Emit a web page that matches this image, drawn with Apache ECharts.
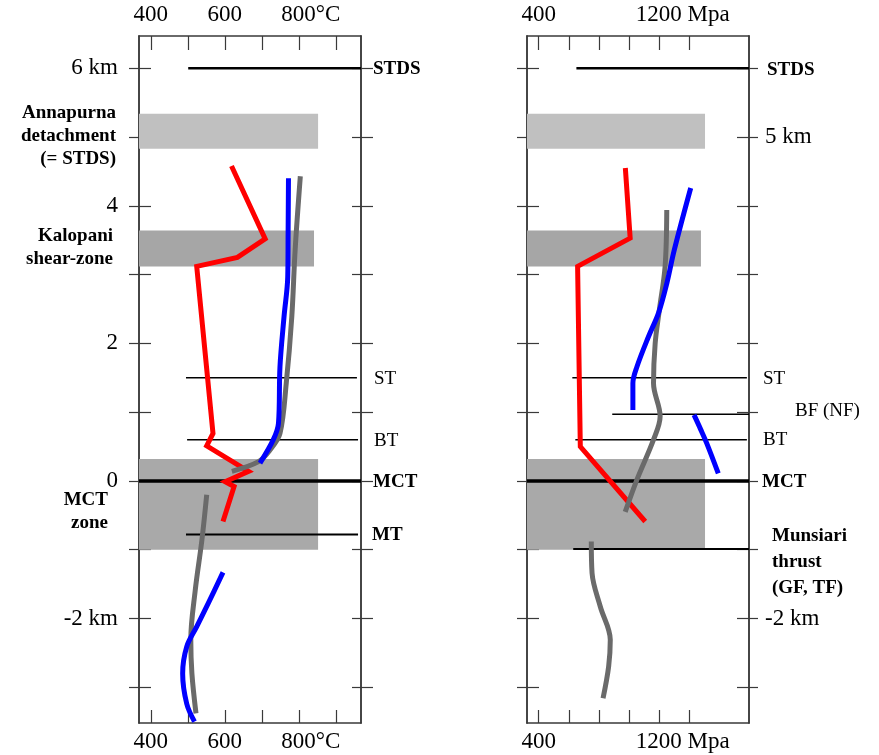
<!DOCTYPE html>
<html>
<head>
<meta charset="utf-8">
<script src="https://cdn.jsdelivr.net/npm/echarts@6.0.0/dist/echarts.min.js"></script>
<style>
    html, body { margin: 0; padding: 0; background: #fff; }
    #chart { width: 879px; height: 755px; }
</style>
</head>
<body>
<div id="chart"></div>
<script>
    // axis ranges / ticks
    var tempRange = [368, 968];
    var presRange = [322, 1796];
    var depthRange = [-3.52, 6.47];
    var tempTicks = [400, 500, 600, 700, 800, 900];
    var tempLabels = [400, 600, 800];
    var presTicks = [400, 600, 800, 1000, 1200, 1400];
    var presLabels = [400, 1200];
    var depthTicks = [-3, -2, -1, 0, 1, 2, 3, 4, 5, 6];
    var depthLabelsL = [6, 4, 2, 0, -2];
    var depthLabelsR = [5, -2];

    // shaded zones: [bottom km, top km]
    var annapurnaBand = [4.83, 5.34];
    var kalopaniBand = [3.12, 3.64];
    var mctZoneBand = [-1.0, 0.32];
    var bandTempMax = [852, 841, 852];
    var bandPresMax = [1504, 1477, 1504];

    // faults
    var faultNamesL = ['STDS', 'ST', 'BT', 'MCT', 'MT'];
    var faultDepthL = [6, 1.5, 0.6, 0, -0.78];
    var faultFromT = [501, 495, 498, 368, 495];
    var faultToT = [968, 957, 960, 968, 960];
    var faultNamesR = ['STDS', 'ST', 'BF (NF)', 'BT', 'MCT', 'Munsiari\nthrust\n(GF, TF)'];
    var faultDepthR = [6, 1.5, 0.97, 0.6, 0, -0.99];
    var faultFromP = [650, 623, 888, 643, 322, 629];
    var faultToP = [1796, 1782, 1796, 1782, 1796, 1796];

    // temperature profiles [T, depth]
    var tempRed = [[618, 4.58], [709, 3.52], [634, 3.25], [524, 3.12], [568, 0.69], [551, 0.51],
        [664, 0.14], [601, -0.01], [625, -0.08], [595, -0.59]];
    var tempBlueUp = [[772, 4.40], [771, 3.6], [770, 2.97], [760, 2.39], [749, 1.66], [745, 0.84],
        [731, 0.60], [695, 0.26]];
    var tempGrayUp = [[804, 4.43], [790, 3.36], [781, 2.39], [766, 1.42], [749, 0.69], [722, 0.45],
        [691, 0.28], [619, 0.14]];
    var tempGrayLow = [[551, -0.20], [538, -0.86], [520, -1.59], [508, -2.31], [511, -2.8], [522, -3.38]];
    var tempBlueLow = [[595, -1.33], [556, -1.77], [524, -2.12], [497, -2.41], [486, -2.8], [497, -3.24],
        [518, -3.5]];

    // pressure profiles [P, depth]
    var presRed = [[975, 4.55], [1007, 3.53], [658, 3.12], [676, 0.5], [1107, -0.59]];
    var presBlueUp = [[1409, 4.26], [1300, 3.36], [1250, 2.87], [1195, 2.44], [1129, 2.10], [1052, 1.66],
        [1025, 1.42], [1025, 1.03]];
    var presBlueLow = [[1431, 0.96], [1475, 0.75], [1515, 0.55], [1592, 0.11]];
    var presGrayUp = [[1250, 3.94], [1239, 3.12], [1201, 2.49], [1173, 2.0], [1162, 1.42], [1206, 0.94],
        [1162, 0.60], [1052, 0.02], [974, -0.45]];
    var presGrayLow = [[749, -0.88], [754, -1.34], [809, -1.83], [875, -2.31], [864, -2.7], [827, -3.16]];

    var FONT = '"Liberation Serif", "Times New Roman", serif';
    var AXIS_COLOR = '#3a3a3a';
    var bandColors = ['#c0c0c0', '#a6a6a6', '#a9a9a9'];

    var grids = [
        { left: 139, top: 36, width: 222, height: 687 },
        { left: 527, top: 36, width: 222, height: 687 }
    ];

    function xAxisPair(gi, range, ticks, labels, unit, unitW) {
        var fmt = function(v) {
            if (v === labels[labels.length - 1]) {
                return '{p| }{n|' + v + '}{u|' + unit + '}';
            }
            return '{n|' + v + '}';
        };
        var rich = {
            p: { width: unitW },
            n: { fontSize: 23, fontFamily: FONT, color: '#000' },
            u: { fontSize: 23, fontFamily: FONT, color: '#000' }
        };
        var line = { show: true, onZero: false, lineStyle: { color: AXIS_COLOR, width: 1.5 } };
        return [{
            gridIndex: gi, type: 'value', position: 'bottom',
            min: range[0], max: range[1],
            axisLine: line,
            axisTick: { show: true, inside: true, length: 13, customValues: ticks, lineStyle: { color: AXIS_COLOR, width: 1.2 } },
            axisLabel: { customValues: labels, margin: 7, formatter: fmt, rich: rich },
            splitLine: { show: false }
        }, {
            gridIndex: gi, type: 'value', position: 'top',
            min: range[0], max: range[1],
            axisLine: line,
            axisTick: { show: true, inside: true, length: 14, customValues: ticks, lineStyle: { color: AXIS_COLOR, width: 1.2 } },
            axisLabel: { customValues: labels, margin: 10, formatter: fmt, rich: rich },
            splitLine: { show: false }
        }];
    }

    function depthFmt(v) {
        return (v === 6 || v === 5 || v === -2) ? v + ' km' : String(v);
    }

    function yAxes(gi, pos, labels, outLen, inLen, margin) {
        var base = {
            gridIndex: gi, type: 'value', position: pos,
            min: depthRange[0], max: depthRange[1],
            axisLine: { show: true, onZero: false, lineStyle: { color: AXIS_COLOR, width: 1.5 } },
            splitLine: { show: false }
        };
        var outer = Object.assign({}, base, {
            axisTick: { show: true, inside: false, length: outLen, customValues: depthTicks, lineStyle: { color: AXIS_COLOR, width: 1.2 } },
            axisLabel: labels ? {
                customValues: labels, margin: margin, formatter: depthFmt,
                fontSize: 23, fontFamily: FONT, color: '#000'
            } : { show: false }
        });
        var inner = Object.assign({}, base, {
            axisTick: { show: true, inside: true, length: inLen, customValues: depthTicks, lineStyle: { color: AXIS_COLOR, width: 1.2 } },
            axisLabel: { show: false }
        });
        return [outer, inner];
    }

    var xAxes = [].concat(
        xAxisPair(0, tempRange, tempTicks, tempLabels, '°C', 24),
        xAxisPair(1, presRange, presTicks, presLabels, ' Mpa', 47)
    );
    var yAxesAll = [].concat(
        yAxes(0, 'left', depthLabelsL, 10, 12, 21),
        yAxes(0, 'right', null, 12, 9, 0),
        yAxes(1, 'left', null, 10, 12, 0),
        yAxes(1, 'right', depthLabelsR, 9, 12, 16)
    );

    function bandItem(params, api) {
        var lo = api.value(0), hi = api.value(1), xmax = api.value(2), xmin = api.value(3);
        var p0 = api.coord([xmin, hi]);
        var p1 = api.coord([xmax, lo]);
        return {
            type: 'rect',
            shape: { x: p0[0], y: p0[1], width: p1[0] - p0[0], height: p1[1] - p0[1] },
            style: { fill: bandColors[params.dataIndex] }
        };
    }

    function bandSeries(xi, yi, xmin, maxArr) {
        var bands = [annapurnaBand, kalopaniBand, mctZoneBand];
        return {
            type: 'custom', xAxisIndex: xi, yAxisIndex: yi, z: 1,
            renderItem: bandItem, silent: true,
            encode: { x: 2, y: 1 },
            data: bands.map(function(b, i) { return [b[0], b[1], maxArr[i], xmin]; })
        };
    }

    function faultSeries(xi, yi, names, depths, from, to) {
        return names.map(function(n, i) {
            var w = 1.5;
            if (n === 'STDS') w = 2.5;
            if (n === 'MCT') w = 3.5;
            if (n === 'MT' || n.indexOf('Munsiari') === 0) w = 2;
            return {
                type: 'line', xAxisIndex: xi, yAxisIndex: yi, z: 3,
                symbol: 'none', silent: true,
                lineStyle: { color: '#000', width: w },
                data: [[from[i], depths[i]], [to[i], depths[i]]]
            };
        });
    }

    function curve(xi, yi, data, color, smooth) {
        return {
            type: 'line', xAxisIndex: xi, yAxisIndex: yi, z: 4,
            symbol: 'none', silent: true, smooth: smooth ? 0.35 : false,
            lineStyle: { color: color, width: 5, cap: 'butt', join: 'miter' },
            data: data
        };
    }

    var RED = '#ff0000', BLUE = '#0000ff', GRAY = '#6a6a6a';

    var series = [].concat(
        [bandSeries(0, 0, tempRange[0], bandTempMax), bandSeries(2, 4, presRange[0], bandPresMax)],
        faultSeries(0, 0, faultNamesL, faultDepthL, faultFromT, faultToT),
        faultSeries(2, 4, faultNamesR, faultDepthR, faultFromP, faultToP),
        [
            curve(0, 0, tempRed, RED, false),
            curve(0, 0, tempGrayUp, GRAY, true),
            curve(0, 0, tempGrayLow, GRAY, true),
            curve(0, 0, tempBlueUp, BLUE, true),
            curve(0, 0, tempBlueLow, BLUE, true),
            curve(2, 4, presRed, RED, false),
            curve(2, 4, presGrayUp, GRAY, true),
            curve(2, 4, presGrayLow, GRAY, true),
            curve(2, 4, presBlueUp, BLUE, true),
            curve(2, 4, presBlueLow, BLUE, true)
        ]
    );

    var myChart = echarts.init(document.getElementById('chart'));
    myChart.setOption({
        animation: false,
        backgroundColor: '#fff',
        grid: grids,
        xAxis: xAxes,
        yAxis: yAxesAll,
        series: series
    });

    // fault names and zone captions
    var boldF = 'bold 19px ' + FONT;
    var normF = '19px ' + FONT;
    var texts = [];
    var offL = [12, 13, 13, 12, 11];
    faultNamesL.forEach(function(n, i) {
        var y = myChart.convertToPixel({ xAxisIndex: 0, yAxisIndex: 0 }, [tempRange[1], faultDepthL[i]])[1];
        var bold = (n === 'STDS' || n === 'MCT' || n === 'MT');
        texts.push({
            type: 'text', z: 10,
            style: { text: n, x: 361 + offL[i], y: y + 1, font: bold ? boldF : normF, fill: '#000', verticalAlign: 'middle' }
        });
    });
    var offR = [18, 14, 46, 14, 13, 23];
    var dyR = [2, 1, -3, 0, 1, 13];
    faultNamesR.forEach(function(n, i) {
        var y = myChart.convertToPixel({ xAxisIndex: 2, yAxisIndex: 4 }, [presRange[1], faultDepthR[i]])[1];
        var bold = !(n === 'ST' || n === 'BT' || n === 'BF (NF)');
        texts.push({
            type: 'text', z: 10,
            style: {
                text: n, x: 749 + offR[i], y: y + dyR[i], font: bold ? boldF : normF, fill: '#000',
                verticalAlign: 'middle', lineHeight: 26
            }
        });
    });
    var captions = [
        { text: 'Annapurna\ndetachment\n(= STDS)', x: 116, y: 136 },
        { text: 'Kalopani\nshear-zone', x: 113, y: 248 },
        { text: 'MCT\nzone', x: 108, y: 512 }
    ];
    captions.forEach(function(c) {
        texts.push({
            type: 'text', z: 10,
            style: { text: c.text, x: c.x, y: c.y, font: 'bold 19px ' + FONT, fill: '#000', align: 'right', verticalAlign: 'middle', lineHeight: 23 }
        });
    });
    myChart.setOption({ graphic: texts });
</script>
</body>
</html>
